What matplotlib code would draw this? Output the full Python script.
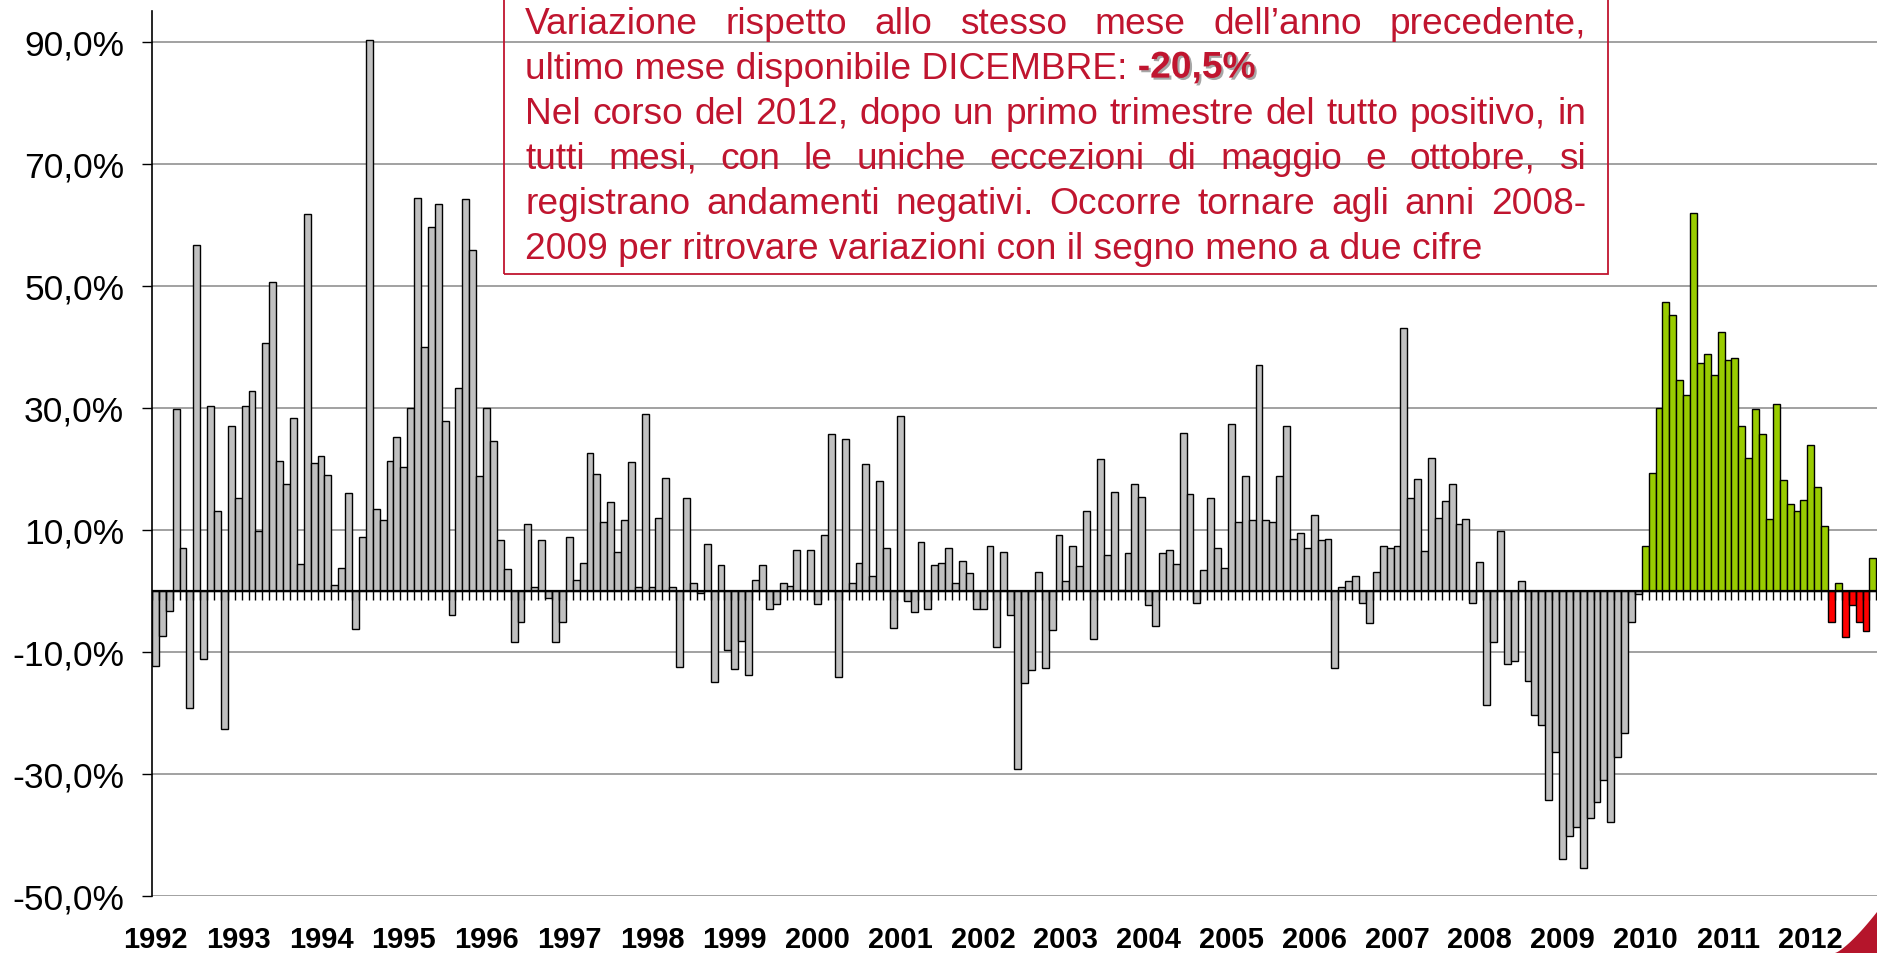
import matplotlib
matplotlib.use("Agg")
import matplotlib.pyplot as plt
import matplotlib.patheffects as pe
from matplotlib.patches import Rectangle, Polygon
import numpy as np

plt.rcParams["font.family"] = ["Liberation Sans", "DejaVu Sans"]

# variazione % sullo stesso mese dell'anno precedente, gen-dic di ogni anno
VAR_1992 = [-12.4, -7.5, -3.3, 29.7, 6.9, -19.3, 56.6, -11.2, 30.3, 13.0, -22.7, 26.9]
VAR_1993 = [15.2, 30.3, 32.7, 9.7, 40.5, 50.6, 21.2, 17.5, 28.2, 4.3, 61.7, 20.9]
VAR_1994 = [22.1, 18.9, 0.9, 3.7, 16.0, -6.3, 8.8, 90.3, 13.3, 11.5, 21.2, 25.1]
VAR_1995 = [20.3, 29.9, 64.4, 39.9, 59.6, 63.3, 27.8, -4.0, 33.2, 64.1, 55.9, 18.8]
VAR_1996 = [29.9, 24.5, 8.2, 3.6, -8.5, -5.2, 10.9, 0.6, 8.2, -1.3, -8.5, -5.2]
VAR_1997 = [8.7, 1.8, 4.5, 22.5, 19.1, 11.2, 14.5, 6.3, 11.5, 21.0, 0.6, 28.9]
VAR_1998 = [0.6, 11.9, 18.5, 0.6, -12.6, 15.2, 1.2, -0.4, 7.6, -15.0, 4.2, -9.8]
VAR_1999 = [-12.8, -8.2, -13.8, 1.8, 4.2, -3.1, -2.2, 1.2, 0.8, 6.6, 0.1, 6.6]
VAR_2000 = [-2.2, 9.1, 25.6, -14.1, 24.9, 1.2, 4.5, 20.7, 2.4, 18.0, 6.9, -6.2]
VAR_2001 = [28.6, -1.7, -3.5, 7.9, -3.1, 4.2, 4.5, 6.9, 1.2, 4.8, 2.8, -3.1]
VAR_2002 = [-3.1, 7.3, -9.3, 6.3, -4.0, -29.2, -15.1, -13.1, 3.1, -12.7, -6.5, 9.1]
VAR_2003 = [1.6, 7.3, 4.0, 13.0, -8.0, 21.6, 5.8, 16.2, 0.1, 6.1, 17.5, 15.3]
VAR_2004 = [-2.3, -5.9, 6.1, 6.7, 4.3, 25.8, 15.9, -2.0, 3.4, 15.1, 7.0, 3.7]
VAR_2005 = [27.3, 11.3, 18.8, 11.5, 37.0, 11.6, 11.3, 18.8, 27.0, 8.5, 9.4, 7.0]
VAR_2006 = [12.4, 8.2, 8.5, -12.7, 0.6, 1.5, 2.4, -2.1, -5.4, 3.0, 7.3, 7.0]
VAR_2007 = [7.3, 43.0, 15.2, 18.2, 6.4, 21.8, 11.9, 14.6, 17.4, 10.9, 11.8, -2.1]
VAR_2008 = [4.6, -18.8, -8.5, 9.7, -12.1, -11.6, 1.5, -14.9, -20.4, -22.1, -34.3, -26.4]
VAR_2009 = [-44.0, -40.3, -38.8, -45.5, -37.3, -34.7, -31.0, -38.0, -27.3, -23.4, -5.2, -0.6]
VAR_2010 = [7.3, 19.3, 30.0, 47.3, 45.2, 34.5, 32.1, 61.9, 37.3, 38.8, 35.4, 42.4]
VAR_2011 = [37.8, 38.1, 27.0, 21.8, 29.7, 25.7, 11.8, 30.5, 18.1, 14.2, 13.0, 14.8]
VAR_2012 = [23.9, 16.9, 10.5, -5.2, 1.2, -7.6, -2.4, -5.2, -6.7, 5.4]  # nov-dic fuori dal riquadro

YEARS = list(range(1992, 2013))
SERIES = [VAR_1992, VAR_1993, VAR_1994, VAR_1995, VAR_1996, VAR_1997, VAR_1998,
          VAR_1999, VAR_2000, VAR_2001, VAR_2002, VAR_2003, VAR_2004, VAR_2005,
          VAR_2006, VAR_2007, VAR_2008, VAR_2009, VAR_2010, VAR_2011, VAR_2012]
Y_TICKS = [-50, -30, -10, 10, 30, 50, 70, 90]

NOTE_LINES = [
    "Variazione rispetto allo stesso mese dell\u2019anno precedente,",
    "ultimo mese disponibile DICEMBRE:",
    "Nel corso del 2012, dopo un primo trimestre del tutto positivo, in",
    "tutti mesi, con le uniche eccezioni di maggio e ottobre, si",
    "registrano andamenti negativi. Occorre tornare agli anni 2008-",
    "2009 per ritrovare variazioni con il segno meno a due cifre",
]
NOTE_JUSTIFY = [True, False, True, True, True, False]
NOTE_VALUE = "-20,5%"

GREY = "#C0C0C0"
GREEN = "#99CC00"
RED = "#FF0000"
NOTE_RED = "#C0152F"

W, H = 1877, 954


def pct(v):
    return f"{v:.1f}%".replace(".", ",")


def main():
    values, colors = [], []
    for year, vals in zip(YEARS, SERIES):
        for v in vals:
            values.append(v)
            if year < 2010:
                colors.append(GREY)
            else:
                colors.append(GREEN if v >= 0 else RED)
    x = np.arange(len(values))

    fig = plt.figure(figsize=(W / 100, H / 100), dpi=100)
    ax = fig.add_axes([152 / W, (H - 896.5) / H, 1 - 152 / W, (896.5 - 12) / H])

    for v in Y_TICKS:
        ax.axhline(v, color="#888888", lw=1.1, zorder=1)
    ax.bar(x, values, width=1.0, color=colors, edgecolor="black",
           linewidth=1.0, zorder=3)
    ax.axhline(0, color="black", lw=1.6, zorder=4)
    ax.vlines(np.arange(len(values) + 3) - 0.5, -1.6, 0, color="black",
              lw=1.0, zorder=4)

    ax.set_xlim(-0.5, 249.6)
    ax.set_ylim(-50, 95)
    ax.set_xticks([])
    ax.set_yticks(Y_TICKS)
    ax.set_yticklabels([pct(v) for v in Y_TICKS])
    ax.tick_params(axis="y", length=7, width=1, pad=13, labelsize=25.5)
    for side in ("top", "right", "bottom"):
        ax.spines[side].set_visible(False)
    ax.spines["left"].set_linewidth(1.2)

    for k, year in enumerate(YEARS):
        ax.annotate(str(year), xy=(12 * k, 0), xycoords=("data", "axes fraction"),
                    xytext=(0, -31), textcoords="offset points", ha="center",
                    va="center", fontsize=21, fontweight="bold", annotation_clip=False)

    # riquadro di commento, testo giustificato
    renderer = fig.canvas.get_renderer()

    def width(s, size, weight="normal"):
        t = fig.text(0, 0, s, fontsize=size, fontweight=weight)
        w = t.get_window_extent(renderer).width
        t.remove()
        return w

    size = 20 * 956 / width(NOTE_LINES[-1], 20)
    space = width("x x", size) - width("xx", size)
    x0, x1 = 525, 1586
    for k, (line, just) in enumerate(zip(NOTE_LINES, NOTE_JUSTIFY)):
        yb = 1 - (33.5 + 45.1 * k) / H
        if just:
            words = line.split(" ")
            ws = [width(w, size) for w in words]
            gap = (x1 - x0 - sum(ws)) / (len(words) - 1)
            xp = x0
            for w, wd in zip(words, ws):
                fig.text(xp / W, yb, w, fontsize=size, color=NOTE_RED, va="baseline")
                xp += wd + gap
        else:
            fig.text(x0 / W, yb, line, fontsize=size, color=NOTE_RED, va="baseline")
        if k == 1:
            xv = x0 + width(line, size) + space
            fig.text(xv / W, yb, NOTE_VALUE, fontsize=size, fontweight="bold",
                     color=NOTE_RED, va="baseline",
                     path_effects=[pe.withSimplePatchShadow(offset=(1.5, -1.5),
                                                            shadow_rgbFace="#808080",
                                                            alpha=0.7)])

    fig.add_artist(Rectangle((504 / W, 1 - 275 / H), (1608 - 504) / W, 275 / H + 0.05,
                             transform=fig.transFigure, fill=False,
                             edgecolor=NOTE_RED, lw=1.3, clip_on=False))

    # decorazione in basso a destra
    t = np.linspace(0, 1, 30)
    cx = 1835 + 42 * t
    cy = 954 - 41 * t ** 1.3
    pts = [(a / W, 1 - b / H) for a, b in zip(cx, cy)] + [(1.0, 0.0)]
    fig.add_artist(Polygon(pts, closed=True, transform=fig.transFigure,
                           facecolor="#B5152B", edgecolor="none", zorder=10))

    fig.savefig("out.png", dpi=100)
    plt.close(fig)


if __name__ == "__main__":
    main()
